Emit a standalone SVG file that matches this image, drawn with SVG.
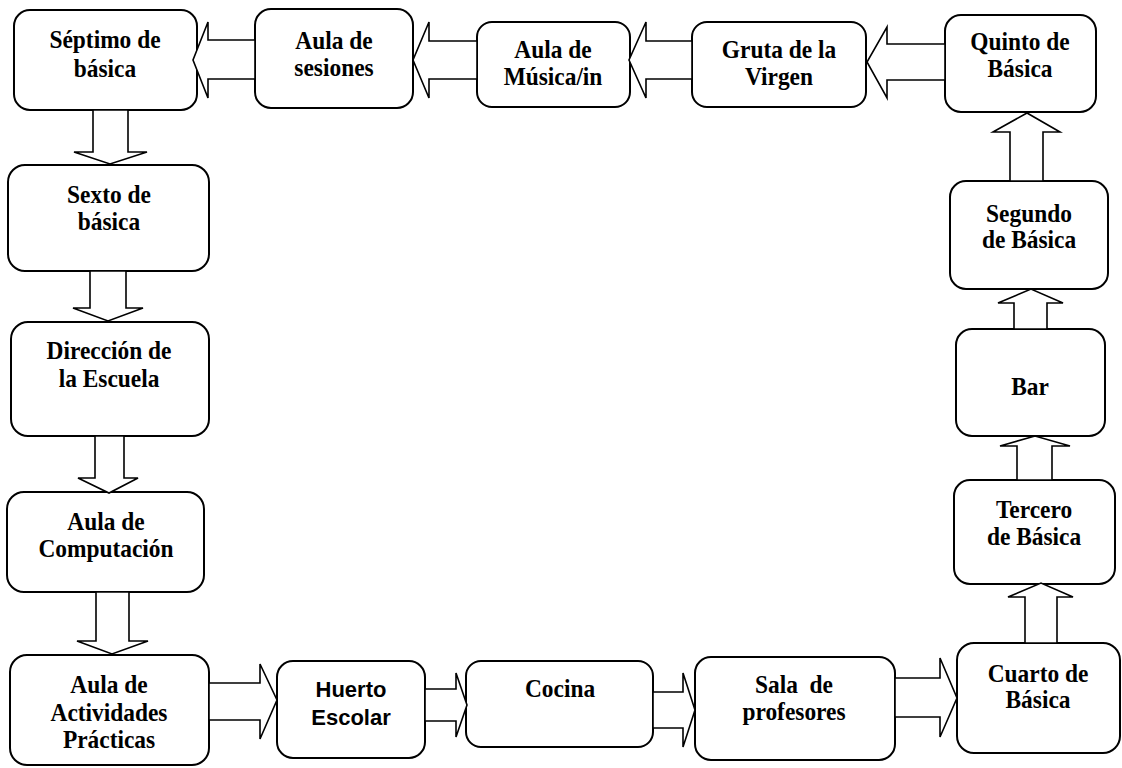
<svg xmlns="http://www.w3.org/2000/svg" width="1122" height="768" viewBox="0 0 1122 768">
<style>
.box{fill:#fff;stroke:#000;stroke-width:2}
.arr{fill:#fff;stroke:#000;stroke-width:1.6;stroke-linejoin:miter}
text{font-weight:bold;text-anchor:middle;fill:#000}
.t{font-size:26px}
.s{font-size:22px}
</style>
<rect width="1122" height="768" fill="#fff"/>
<g font-family="Liberation Serif, DejaVu Serif, serif">
<g id="n-septimo"><rect class="box" x="14" y="10" width="183" height="100" rx="16"/><text class="t" transform="translate(105,48) scale(0.9,1)">Séptimo de</text><text class="t" transform="translate(105,77) scale(0.9,1)">básica</text></g>
<g id="n-sesiones"><rect class="box" x="255" y="9" width="158" height="99" rx="16"/><text class="t" transform="translate(334,49) scale(0.9,1)">Aula de</text><text class="t" transform="translate(334,76) scale(0.9,1)">sesiones</text></g>
<g id="n-musica"><rect class="box" x="477" y="22" width="153" height="85" rx="15"/><text class="t" transform="translate(553,58) scale(0.9,1)">Aula de</text><text class="t" transform="translate(553,85) scale(0.9,1)">Música/in</text></g>
<g id="n-gruta"><rect class="box" x="692" y="22" width="174" height="85" rx="15"/><text class="t" transform="translate(779,58) scale(0.9,1)">Gruta de la</text><text class="t" transform="translate(779,85) scale(0.9,1)">Virgen</text></g>
<g id="n-quinto"><rect class="box" x="945" y="15" width="151" height="97" rx="16"/><text class="t" transform="translate(1020,50) scale(0.9,1)">Quinto de</text><text class="t" transform="translate(1020,77) scale(0.9,1)">Básica</text></g>
<g id="n-sexto"><rect class="box" x="8" y="165" width="201" height="106" rx="17"/><text class="t" transform="translate(109,203) scale(0.9,1)">Sexto de</text><text class="t" transform="translate(109,230) scale(0.9,1)">básica</text></g>
<g id="n-direccion"><rect class="box" x="11" y="322" width="198" height="114" rx="17"/><text class="t" transform="translate(109,359) scale(0.9,1)">Dirección de</text><text class="t" transform="translate(109,387) scale(0.9,1)">la Escuela</text></g>
<g id="n-computacion"><rect class="box" x="7" y="492" width="197" height="100" rx="17"/><text class="t" transform="translate(106,530) scale(0.9,1)">Aula de</text><text class="t" transform="translate(106,557) scale(0.9,1)">Computación</text></g>
<g id="n-actividades"><rect class="box" x="10" y="655" width="199" height="110" rx="17"/><text class="t" transform="translate(109,693) scale(0.9,1)">Aula de</text><text class="t" transform="translate(109,721) scale(0.9,1)">Actividades</text><text class="t" transform="translate(109,748) scale(0.9,1)">Prácticas</text></g>
<g id="n-huerto" font-family="Liberation Sans, Arial, sans-serif"><rect class="box" x="277" y="661" width="148" height="97" rx="16"/><text class="s" x="351" y="697">Huerto</text><text class="s" x="351" y="725">Escolar</text></g>
<g id="n-cocina"><rect class="box" x="466" y="661" width="187" height="86" rx="15"/><text class="t" transform="translate(560,697) scale(0.9,1)">Cocina</text></g>
<g id="n-sala"><rect class="box" x="695" y="657" width="200" height="103" rx="16"/><text class="t" transform="translate(794,693) scale(0.9,1)" xml:space="preserve">Sala  de</text><text class="t" transform="translate(794,720) scale(0.9,1)">profesores</text></g>
<g id="n-cuarto"><rect class="box" x="957" y="643" width="163" height="110" rx="17"/><text class="t" transform="translate(1038,682) scale(0.9,1)">Cuarto de</text><text class="t" transform="translate(1038,708) scale(0.9,1)">Básica</text></g>
<g id="n-tercero"><rect class="box" x="954" y="480" width="161" height="104" rx="16"/><text class="t" transform="translate(1034,518) scale(0.9,1)">Tercero</text><text class="t" transform="translate(1034,545) scale(0.9,1)">de Básica</text></g>
<g id="n-bar"><rect class="box" x="956" y="329" width="149" height="107" rx="16"/><text class="t" transform="translate(1030,395) scale(0.9,1)">Bar</text></g>
<g id="n-segundo"><rect class="box" x="950" y="181" width="158" height="108" rx="16"/><text class="t" transform="translate(1029,222) scale(0.9,1)">Segundo</text><text class="t" transform="translate(1029,248) scale(0.9,1)">de Básica</text></g>
</g>
<g id="connectors">
<polygon class="arr" points="93,110 128,110 128,152 147,152 110,164 74,152 93,152"/>
<polygon class="arr" points="90,271 126,271 126,308 143,308 108,321 73,308 90,308"/>
<polygon class="arr" points="95,436 124,436 124,478 138,478 109,493 78,478 95,478"/>
<polygon class="arr" points="96,592 129,592 129,641 148,641 112,654 77,641 96,641"/>
<polygon class="arr" points="209,683 260,683 260,664 277,700 260,739 260,720 209,720"/>
<polygon class="arr" points="425,689 456,689 456,673 467,705 456,737 456,721 425,721"/>
<polygon class="arr" points="653,692 683,692 683,673 695,710 683,747 683,728 653,728"/>
<polygon class="arr" points="895,678 940,678 940,658 957,698 940,737 940,717 895,717"/>
<polygon class="arr" points="1025,643 1025,597 1008,597 1041,583 1073,597 1057,597 1057,643"/>
<polygon class="arr" points="1017,480 1017,446 1000,446 1035,436 1070,446 1052,446 1052,480"/>
<polygon class="arr" points="1014,329 1014,303 998,303 1031,289 1063,303 1047,303 1047,329"/>
<polygon class="arr" points="1010,181 1010,132 993,132 1027,113 1060,132 1043,132 1043,181"/>
<polygon class="arr" points="945,44 887,44 887,27 867,62 887,98 887,80 945,80"/>
<polygon class="arr" points="692,41 646,41 646,22 629,60 646,98 646,79 692,79"/>
<polygon class="arr" points="477,41 429,41 429,22 413,60 429,98 429,79 477,79"/>
<polygon class="arr" points="255,40 208,40 208,22 193,60 208,98 208,79 255,79"/>
</g>
</svg>
